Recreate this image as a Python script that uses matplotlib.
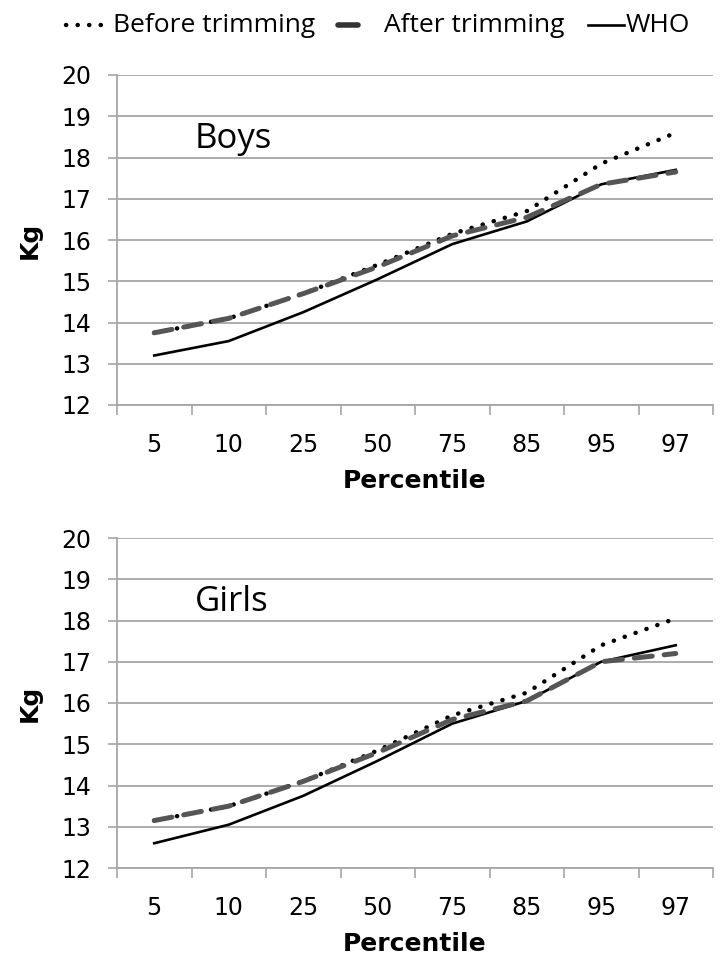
import matplotlib
matplotlib.use("Agg")
import matplotlib.pyplot as plt
from matplotlib.lines import Line2D

percentiles = ["5", "10", "25", "50", "75", "85", "95", "97"]

boys_before = [13.75, 14.1, 14.7, 15.4, 16.15, 16.7, 17.85, 18.6]
boys_after = [13.75, 14.1, 14.7, 15.35, 16.1, 16.55, 17.35, 17.65]
boys_who = [13.2, 13.55, 14.25, 15.05, 15.9, 16.45, 17.35, 17.7]

girls_before = [13.15, 13.5, 14.1, 14.85, 15.7, 16.25, 17.4, 18.05]
girls_after = [13.15, 13.5, 14.1, 14.8, 15.6, 16.05, 17.0, 17.2]
girls_who = [12.6, 13.05, 13.75, 14.6, 15.5, 16.05, 17.0, 17.4]

yticks = [12, 13, 14, 15, 16, 17, 18, 19, 20]
series_labels = ["Before trimming", "After trimming", "WHO"]

plt.rcParams['font.family'] = ['DejaVu Sans']

fig = plt.figure(figsize=(7.26, 9.73), dpi=100)
W, H = 726, 973

def make_ax(top_px, bottom_px):
    left, right = 117, 713
    return fig.add_axes([left / W, 1 - bottom_px / H, (right - left) / W, (bottom_px - top_px) / H])

gray_grid = "#a6a6a6"
dotted = dict(color="black", lw=3.2, linestyle=(0, (0.05, 2.55)), dash_capstyle="round", solid_capstyle="round")
dashed = dict(color="#555555", lw=3.6, linestyle=(0, (3.6, 2.4)), dash_capstyle="round")
solid = dict(color="black", lw=1.9)

def draw(ax, before, after, who, label):
    x = list(range(len(percentiles)))
    ax.plot(x, before, zorder=3, **dotted)
    ax.plot(x, who, zorder=4, **solid)
    ax.plot(x, after, zorder=5, **dashed)
    ax.set_xlim(-0.5, len(percentiles) - 0.5)
    ax.set_ylim(12, 20)
    ax.set_yticks(yticks)
    ax.set_xticks(x)
    ax.set_xticklabels(percentiles, fontsize=17)
    ax.set_xticks([i - 0.5 for i in range(len(percentiles) + 1)], minor=True)
    ax.tick_params(axis='x', which='major', length=0, pad=20)
    ax.tick_params(axis='x', which='minor', length=7, width=1.2, color=gray_grid, direction='out')
    ax.tick_params(axis='y', length=6.5, width=1.2, color=gray_grid, labelsize=17, pad=12)
    ax.yaxis.grid(True, color=gray_grid, lw=1.3)
    ax.set_axisbelow(True)
    for s in ["top", "right"]:
        ax.spines[s].set_visible(False)
    for s in ["left", "bottom"]:
        ax.spines[s].set_color(gray_grid)
        ax.spines[s].set_linewidth(1.3)
    ax.set_ylabel("Kg", fontsize=18, fontweight="bold", labelpad=14)
    ax.set_xlabel("Percentile", fontsize=18, fontweight="bold", labelpad=9)
    ax.text(78 / 596, 0.805, label, transform=ax.transAxes, fontsize=25,
            family=["Open Sans", "DejaVu Sans"], ha="left", va="center")

ax1 = make_ax(75, 405)
draw(ax1, boys_before, boys_after, boys_who, "Boys")
ax2 = make_ax(538, 868)
draw(ax2, girls_before, girls_after, girls_who, "Girls")

# Legend drawn in figure pixel coordinates
ly = 1 - 25 / H
def fx(px):
    return px / W
fig.add_artist(Line2D([fx(66), fx(104)], [ly, ly], transform=fig.transFigure, **dotted))
fig.text(fx(113), ly, series_labels[0], fontsize=19, family=["Open Sans", "DejaVu Sans"], ha="left", va="center")
fig.add_artist(Line2D([fx(338), fx(358)], [ly, ly], transform=fig.transFigure, color="#333333", lw=4.0,
                      solid_capstyle="round"))
fig.text(fx(384), ly, series_labels[1], fontsize=19, family=["Open Sans", "DejaVu Sans"], ha="left", va="center")
fig.add_artist(Line2D([fx(588), fx(624)], [ly, ly], transform=fig.transFigure, **solid))
fig.text(fx(626), ly, series_labels[2], fontsize=19, family=["Open Sans", "DejaVu Sans"], ha="left", va="center")

fig.savefig("out.png", dpi=100, facecolor="white")
